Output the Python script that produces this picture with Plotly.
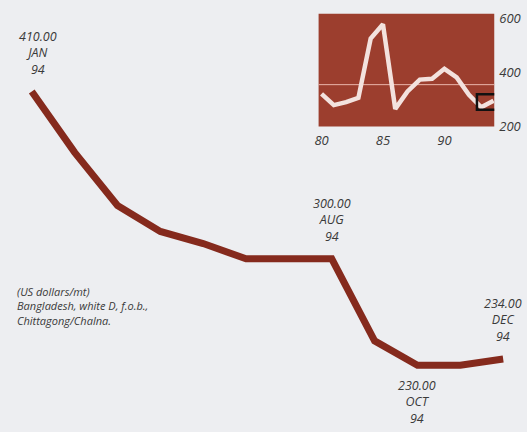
import plotly.graph_objects as go

# Monthly prices, 1994 (US dollars/mt)
months = ["JAN", "FEB", "MAR", "APR", "MAY", "JUN", "JUL", "AUG", "SEP", "OCT", "NOV", "DEC"]
prices_1994 = [410, 370, 335, 318, 310, 300, 300, 300, 246, 230, 230, 234]

# Annual history for the inset, 1980-1994
years = [80, 81, 82, 83, 84, 85, 86, 87, 88, 89, 90, 91, 92, 93, 94]
annual_prices = [321, 279, 290, 306, 527, 580, 265, 330, 374, 377, 414, 382, 317, 271, 295]

inset_xticks = [80, 85, 90]
inset_yticks = [200, 400, 600]

# Points that carry a value label, and where the label sits
labelled = {"JAN": "above", "AUG": "above", "OCT": "below", "DEC": "above"}

note_lines = ["(US dollars/mt)", "Bangladesh, white D, f.o.b.,", "Chittagong/Chalna."]

BG = "#edeef1"
MAIN_LINE = "#852a1d"
INSET_BG = "#9c3e2e"
INSET_LINE = "#f3e2de"
TEXT = "#3a3a3a"
FONT = "Open Sans"

idx = list(range(len(months)))

fig = go.Figure()

fig.add_trace(go.Scatter(
    x=idx, y=prices_1994, mode="lines",
    line=dict(color=MAIN_LINE, width=7),
    xaxis="x", yaxis="y", hoverinfo="skip", showlegend=False,
))

fig.add_trace(go.Scatter(
    x=years, y=annual_prices, mode="lines",
    line=dict(color=INSET_LINE, width=4.5),
    xaxis="x2", yaxis="y2", hoverinfo="skip", showlegend=False,
))

annotations = []
for m, pos in labelled.items():
    i = months.index(m)
    v = prices_1994[i]
    text = f"{v:.2f}<br>{m}<br>94"
    annotations.append(dict(
        x=i, y=v, xref="x", yref="y", text=text, showarrow=False,
        xanchor="center", yanchor="bottom" if pos == "above" else "top",
        xshift=6 if m == "JAN" else 0,
        yshift=12 if pos == "above" else -10,
        font=dict(family=FONT, size=12.5, color=TEXT, style="italic"),
        align="center",
    ))

# Source note
annotations.append(dict(
    x=0.021, y=1 - 311 / 432, xref="paper", yref="paper",
    text="<br>".join(note_lines), showarrow=False,
    xanchor="left", yanchor="middle", align="left",
    font=dict(family=FONT, size=11, color=TEXT, style="italic"),
))

avg = sum(annual_prices) / len(annual_prices)

shapes = [
    # inset panel background
    dict(type="rect", xref="x2 domain", yref="y2 domain", x0=0, x1=1, y0=0, y1=1,
         fillcolor=INSET_BG, line=dict(width=0), layer="below"),
    # long-run average
    dict(type="line", xref="x2 domain", yref="y2", x0=0, x1=1, y0=avg, y1=avg,
         line=dict(color="#e9b5aa", width=1), layer="below"),
    # frame around the latest year
    dict(type="rect", xref="x2", yref="y2",
         x0=years[-1] - 1.35, x1=years[-1] + 0.5,
         y0=annual_prices[-1] - 33, y1=annual_prices[-1] + 24,
         line=dict(color="#111111", width=2.5), fillcolor="rgba(0,0,0,0)"),
]

fig.update_layout(
    width=527, height=432,
    margin=dict(l=0, r=0, t=0, b=0),
    paper_bgcolor=BG, plot_bgcolor="rgba(0,0,0,0)",
    showlegend=False,
    xaxis=dict(domain=[0, 1], range=[-0.648, 11.556], visible=False, fixedrange=True),
    yaxis=dict(domain=[0, 1], range=[191.3, 467.6], visible=False, fixedrange=True),
    xaxis2=dict(
        domain=[317 / 527, 494 / 527], anchor="y2", range=[79.76, 94.06],
        tickvals=inset_xticks, ticktext=[str(t) for t in inset_xticks],
        showgrid=False, zeroline=False, showline=False, ticks="",
        tickfont=dict(family=FONT, size=13, color=TEXT, style="italic"),
        ticklabelstandoff=4,
    ),
    yaxis2=dict(
        domain=[1 - 126 / 432, 1 - 10 / 432], anchor="x2", side="right",
        range=[199.5, 619],
        tickvals=inset_yticks, ticktext=[str(t) for t in inset_yticks],
        showgrid=False, zeroline=False, showline=False, ticks="",
        tickfont=dict(family=FONT, size=13, color=TEXT, style="italic"),
        ticklabelstandoff=4,
    ),
    annotations=annotations,
    shapes=shapes,
)

fig.write_html("out.html")
